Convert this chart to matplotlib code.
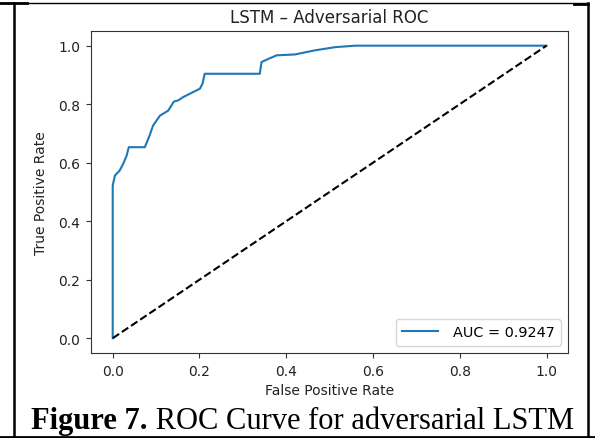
import matplotlib
matplotlib.use("Agg")
import matplotlib.pyplot as plt
from matplotlib.lines import Line2D

# ROC curve points (false positive rate, true positive rate)
fpr = [0.000, 0.000, 0.000, 0.005, 0.016, 0.024, 0.032, 0.037, 0.074, 0.085,
       0.093, 0.109, 0.128, 0.141, 0.151, 0.162, 0.201, 0.207, 0.212, 0.339,
       0.343, 0.359, 0.378, 0.420, 0.466, 0.513, 0.559, 1.000]
tpr = [0.000, 0.300, 0.522, 0.556, 0.573, 0.596, 0.624, 0.653, 0.653, 0.693,
       0.727, 0.761, 0.778, 0.809, 0.813, 0.824, 0.853, 0.870, 0.904, 0.904,
       0.944, 0.955, 0.967, 0.970, 0.984, 0.995, 1.000, 1.000]
auc_value = 0.9247

chance_x = [0, 1]
chance_y = [0, 1]

title = "LSTM \u2013 Adversarial ROC"
xlabel = "False Positive Rate"
ylabel = "True Positive Rate"
caption_bold = "Figure 7."
caption_rest = " ROC Curve for adversarial LSTM"

fs = 10
fig = plt.figure(figsize=(5.95, 4.39), dpi=100)
ax = fig.add_axes([0.153, 0.194, 0.802, 0.733])

ax.plot(fpr, tpr, color="#1f77b4", lw=1.5, label=f"AUC = {auc_value:.4f}")
ax.plot(chance_x, chance_y, "k--", lw=1.5)
ax.set_xlim(-0.05, 1.05)
ax.set_ylim(-0.05, 1.05)
ax.set_xticks([0.0, 0.2, 0.4, 0.6, 0.8, 1.0])
ax.set_yticks([0.0, 0.2, 0.4, 0.6, 0.8, 1.0])
ax.tick_params(labelsize=fs, length=3.4, width=0.8, pad=4.5,
               colors="#333333", labelcolor="#222222")
for s in ax.spines.values():
    s.set_color("#333333")
    s.set_linewidth(0.8)
ax.set_title(title, fontsize=12, pad=6.5, color="#222222")
ax.set_xlabel(xlabel, fontsize=fs, labelpad=4, color="#222222")
ax.set_ylabel(ylabel, fontsize=fs, labelpad=7, color="#222222")
ax.legend(loc="lower right", fontsize=10.4, handlelength=2.5,
          handletextpad=1.0, borderpad=0.45)

# Caption below the plot: bold label followed by regular text, centred
serif = ["Liberation Serif", "DejaVu Serif"]
cap_fs = 22
cap_y = 1 - 429 / 439
renderer = fig.canvas.get_renderer()
t1 = fig.text(0, cap_y, caption_bold, fontsize=cap_fs, fontweight="bold",
              family=serif, va="baseline", ha="left")
t2 = fig.text(0, cap_y, caption_rest, fontsize=cap_fs,
              family=serif, va="baseline", ha="left")
w1 = t1.get_window_extent(renderer=renderer).width
w2 = t2.get_window_extent(renderer=renderer).width
x0 = 302.5 - (w1 + w2) / 2
t1.set_x(x0 / fig.bbox.width)
t2.set_x((x0 + w1) / fig.bbox.width)

# Enclosing frame lines
W, H = 595.0, 439.0
def fx(px):
    return px / W
def fy(py):
    return 1 - py / H

frame = [
    ([fx(0), fx(588)], [fy(4), fy(4)], 1.0),
    ([fx(0), fx(27)], [fy(4), fy(4)], 2.0),
    ([fx(574), fx(588)], [fy(4.5), fy(4.5)], 2.0),
    ([fx(13.5), fx(13.5)], [fy(4), fy(439)], 1.8),
    ([fx(587.5), fx(587.5)], [fy(4), fy(439)], 1.8),
    ([fx(0), fx(595)], [fy(437.5), fy(437.5)], 2.0),
]
for xs, ys, lw in frame:
    fig.add_artist(Line2D(xs, ys, color="black", lw=lw, transform=fig.transFigure))

fig.savefig("out.png", dpi=100)
